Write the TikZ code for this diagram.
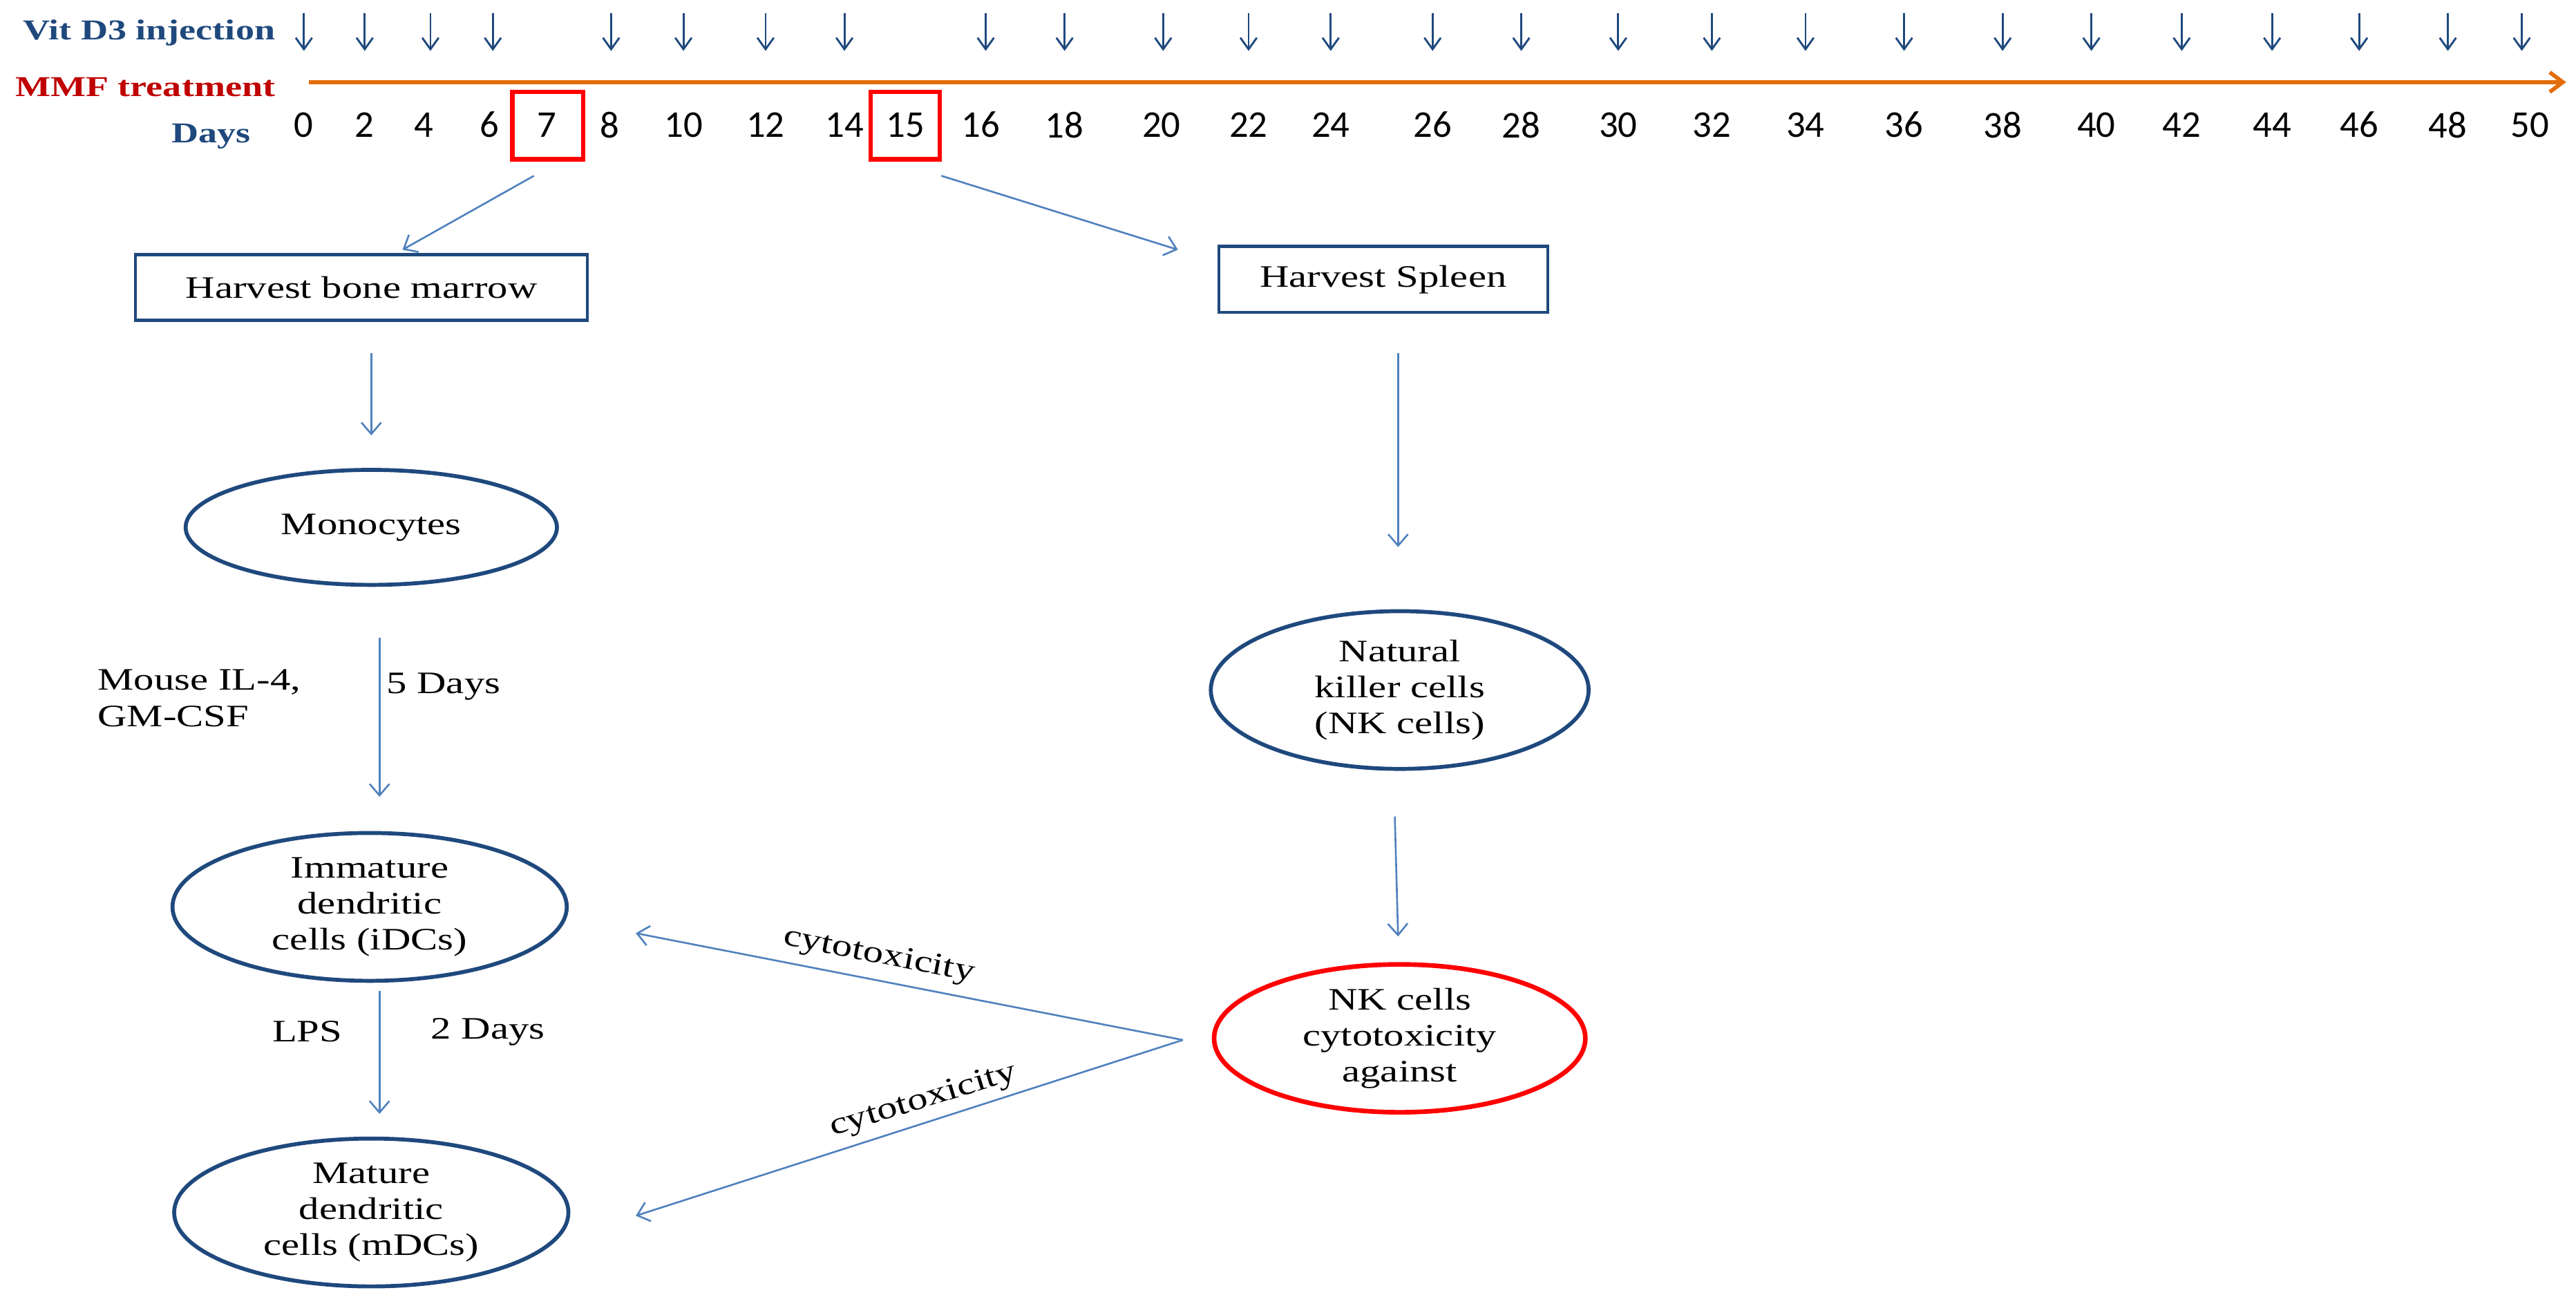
\documentclass[tikz,border=0pt]{standalone}
\usepackage{fontspec}
\setmainfont{Liberation Serif}[FakeStretch=1.3]
\newfontfamily\numf{Carlito}
\usetikzlibrary{arrows.meta,shapes.geometric}
\definecolor{ab}{RGB}{79,129,189}
\definecolor{db}{RGB}{31,73,125}
\definecolor{mr}{RGB}{192,0,0}
\definecolor{og}{RGB}{228,108,10}
\tikzset{x=1pt,y=-1pt,
 flow/.style={draw=ab,line width=1.1pt,-{Straight Barb[length=7pt,width=12pt]}},
 inj/.style={draw=db,line width=1.2pt,-{Straight Barb[length=7pt,width=10pt]}},
 txt/.style={font=\fontsize{19}{22}\selectfont,align=center,text=black},
 ell/.style={draw=db,line width=2.4pt,ellipse,minimum width=#1},
 bx/.style={draw=db,line width=1.8pt,txt,inner sep=0pt},
 lab/.style={font=\bfseries\fontsize{17.5}{20}\selectfont},
 day/.style={font=\numf\fontsize{23}{24}\selectfont}}
\begin{document}
\begin{tikzpicture}
\useasboundingbox (0,0) rectangle (1568,800);
\node[anchor=east,text=db,lab] (lv) at (171,20) {Vit D3 injection};
\node[anchor=east,text=mr,lab] (lm) at (171,53) {MMF treatment};
\node[anchor=east,text=db,lab] (ld) at (156,83) {Days};
\foreach \x [count=\i] in {185,222,262,300,372,416,466,514,600,648,708,760,810,872,926,985,1042,1099,1159,1219,1273,1328,1383,1436,1490,1535}{
  \coordinate (it\i) at (\x,8); \coordinate (ib\i) at (\x,31);
  \draw[inj] (it\i) -- (ib\i);}
\coordinate (os) at (188,50); \coordinate (oe) at (1562,50);
\draw[og,line width=2.4pt,-{Straight Barb[length=8pt,width=12pt]}] (os) -- (oe);
\foreach \d/\x in {0/185,2/222,4/258,6/298,7/333,8/371,10/416,12/466,14/514,15/551,16/597,18/648,20/707,22/760,24/810,26/872,28/926,30/985,32/1042,34/1099,36/1159,38/1219,40/1276,42/1328,44/1383,46/1436,48/1490,50/1540}
  \node[day] (d\d) at (\x,76) {\d};
\draw[red,line width=2.8pt] (312,56) rectangle (355,97);
\draw[red,line width=2.8pt] (530,56) rectangle (572,97);
\node[bx,minimum width=275pt,minimum height=40pt] (hb) at (220,175) {Harvest bone marrow};
\node[bx,minimum width=200pt,minimum height=40pt] (hs) at (842,170) {Harvest Spleen};
\coordinate (a7) at (325,107); \coordinate (a15) at (573,107);
\coordinate (e7) at (245,152);
\draw[flow] (a7) -- (e7);
\draw[flow] (a15) -- (717,152);
\node[ell=226pt,minimum height=70pt,txt] (mo) at (226,321) {Monocytes};
\node[ell=240pt,minimum height=90pt,txt,inner sep=0pt] (im) at (225,552) {Immature\\dendritic\\cells (iDCs)};
\node[ell=240pt,minimum height=90pt,txt,inner sep=0pt] (ma) at (226,738) {Mature\\dendritic\\cells (mDCs)};
\node[ell=230pt,minimum height=96pt,txt,inner sep=0pt] (nk) at (852,420) {Natural\\killer cells\\(NK cells)};
\node[draw=red,line width=2.8pt,ellipse,minimum width=226pt,minimum height=90pt,txt,inner sep=0pt] (nc) at (852,632) {NK cells\\cytotoxicity\\against};
\draw[flow] (226,215) -- (226,265);
\draw[flow] (231,388) -- (231,485);
\draw[flow] (231,603) -- (231,678);
\draw[flow] (851,215) -- (851,333);
\draw[flow] (849,497) -- (851,570);
\coordinate (c0) at (720,633);
\draw[flow] (c0) -- (387,568);
\draw[flow] (c0) -- (387,740);
\node[txt,align=left,anchor=west] (ml) at (56,425) {Mouse IL-4,\\GM-CSF};
\node[txt] (fd) at (270,418) {5 Days};
\node[txt] (lps) at (187,628) {LPS};
\node[txt] (td) at (297,628) {2 Days};
\node[txt,rotate=-11] (c1) at (535,582) {cytotoxicity};
\node[txt,rotate=17] (c2) at (562,670) {cytotoxicity};
\end{tikzpicture}
\end{document}
